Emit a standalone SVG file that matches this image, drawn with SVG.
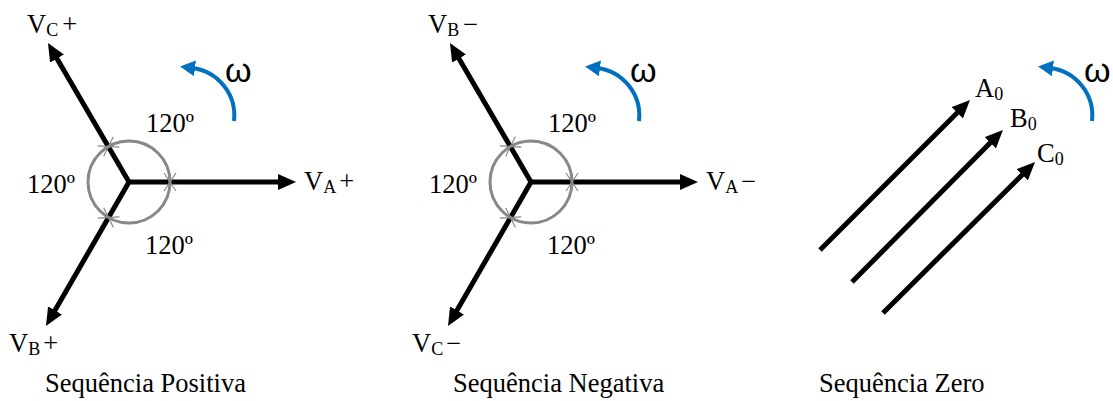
<svg xmlns="http://www.w3.org/2000/svg" xmlns:xlink="http://www.w3.org/1999/xlink" width="1113" height="401" viewBox="0 0 1113 401" font-family="'Liberation Serif', 'Times New Roman', serif">
<style>
text{font-family:'Liberation Serif','Times New Roman',serif;font-size:26.5px;fill:#000}
.sub{font-size:18px}
.om{font-family:'Liberation Sans',Arial,sans-serif;font-size:34px}
.vec{stroke:#000;stroke-width:5;fill:none;marker-end:url(#ah)}
.rot{stroke:#0070C0;stroke-width:4;fill:none;marker-end:url(#bh)}
.ang{stroke:#888;stroke-width:3;fill:none}
.tk{stroke:#888;stroke-width:1.2;fill:none}
</style>
<defs>
<marker id="ah" markerUnits="userSpaceOnUse" markerWidth="18" markerHeight="16" refX="6" refY="8" orient="auto"><path d="M0,0 L18,8 L0,16 Z" fill="#000"/></marker>
<marker id="bh" markerUnits="userSpaceOnUse" markerWidth="15" markerHeight="16" refX="3" refY="8" orient="auto"><path d="M0,0 L15,8 L0,16 Z" fill="#0070C0"/></marker>
<g id="tick"><path class="tk" d="M-6,-9 L6,9 M6,-9 L-6,9"/></g>
<g id="star">
<circle class="ang" cx="0" cy="0" r="41"/>
<use xlink:href="#tick" transform="translate(41,0)"/>
<use xlink:href="#tick" transform="rotate(-120) translate(41,0)"/>
<use xlink:href="#tick" transform="rotate(120) translate(41,0)"/>
</g>
</defs>

<g id="connectors">
<path class="vec" d="M129,182 L284,182"/>
<path class="vec" d="M129,182 L54,53.4"/>
<path class="vec" d="M129,182 L52,315.6"/>
<path class="vec" d="M531,182 L686,182"/>
<path class="vec" d="M531,182 L456,53.4"/>
<path class="vec" d="M531,182 L454,315.6"/>
<path class="vec" d="M820,250 L961.5,108.5"/>
<path class="vec" d="M852,282 L994.5,138.5"/>
<path class="vec" d="M883,313 L1026.5,170.5"/>
<path class="rot" d="M234,121 A48,48 0 0 0 192,68"/>
<path class="rot" d="M639,121 A48,48 0 0 0 597,68"/>
<path class="rot" d="M1092,121 A48,48 0 0 0 1050,68"/>
</g>

<g id="positive">
<use xlink:href="#star" transform="translate(129,182)"/>
<text x="27" y="33">V<tspan class="sub" dy="3">C</tspan><tspan dx="4" dy="-3">+</tspan></text>
<text x="304" y="190">V<tspan class="sub" dy="3">A</tspan><tspan dx="3" dy="-3">+</tspan></text>
<text x="9" y="352">V<tspan class="sub" dy="3">B</tspan><tspan dx="3" dy="-3">+</tspan></text>
<text x="146" y="132">120º</text>
<text x="27" y="193">120º</text>
<text x="145" y="254">120º</text>
<text class="om" x="225" y="82">ω</text>
<text x="45" y="392">Sequência Positiva</text>
</g>

<g id="negative">
<use xlink:href="#star" transform="translate(531,182)"/>
<text x="428" y="33">V<tspan class="sub" dy="3">B</tspan><tspan dx="4" dy="-3">−</tspan></text>
<text x="706" y="190">V<tspan class="sub" dy="3">A</tspan><tspan dx="3" dy="-3">−</tspan></text>
<text x="412" y="352">V<tspan class="sub" dy="3">C</tspan><tspan dx="3" dy="-3">−</tspan></text>
<text x="548" y="132">120º</text>
<text x="429" y="193">120º</text>
<text x="547" y="254">120º</text>
<text class="om" x="630" y="82">ω</text>
<text x="453" y="392">Sequência Negativa</text>
</g>

<g id="zero">
<text x="975" y="97">A<tspan class="sub" dy="3">0</tspan></text>
<text x="1010" y="127">B<tspan class="sub" dy="3">0</tspan></text>
<text x="1037" y="162">C<tspan class="sub" dy="3">0</tspan></text>
<text class="om" x="1084" y="82">ω</text>
<text x="819" y="392">Sequência Zero</text>
</g>
</svg>
